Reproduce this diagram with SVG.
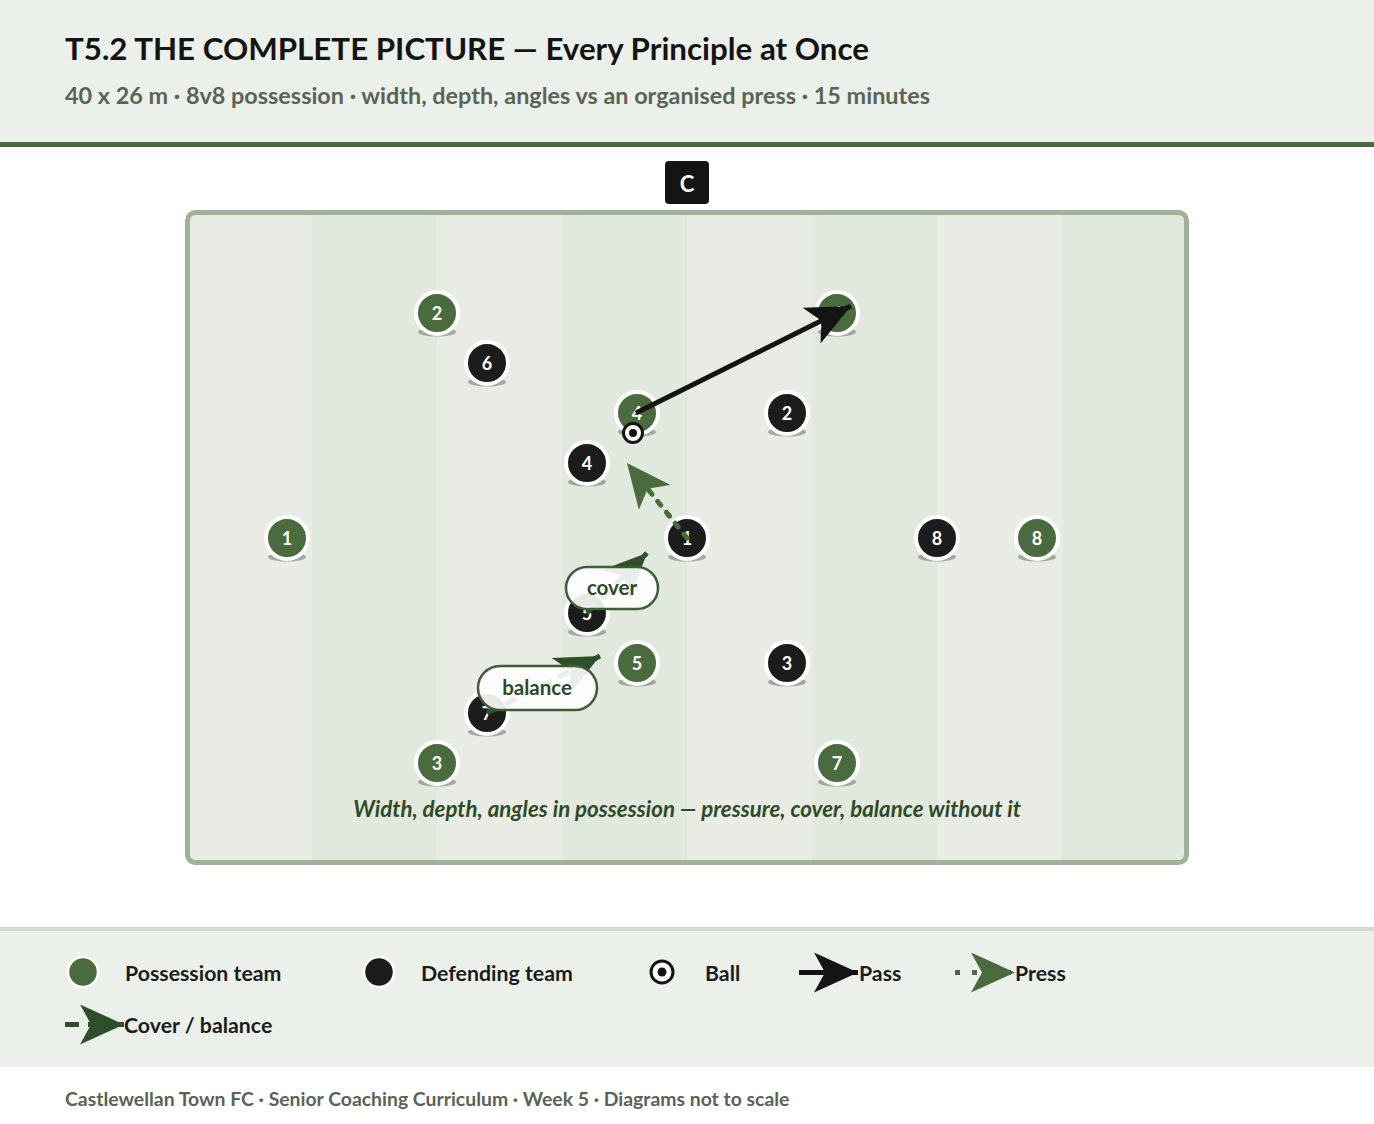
<svg xmlns="http://www.w3.org/2000/svg" width="1374" height="1124" viewBox="0 0 1374 1124">
<style>
text{font-family:Lato,"Liberation Sans",sans-serif;font-weight:700}
.title{font-size:31.3px;fill:#141414}
.sub{font-size:23.4px;fill:#5a6355}
.num{font-size:18px;fill:#ffffff;text-anchor:middle}
.att{fill:#4a6b3e;stroke:#ffffff;stroke-width:4}
.def{fill:#1c1c1c;stroke:#ffffff;stroke-width:4}
.shadow{fill:#8f918b;opacity:0.75}
.lbl{fill:#ffffff;fill-opacity:0.9;stroke:#3d5e35;stroke-width:2.5}
.lbltxt{font-size:20.5px;fill:#2e4a27;text-anchor:middle}
.leg{font-size:21.3px;fill:#1c1c1c}
.foot{font-size:19.4px;fill:#5a6355}
.cap{font-size:22.3px;font-style:italic;fill:#2e4a27;text-anchor:middle}
.dk{fill:#e1e8de}
.lt{fill:#e8ece5}
</style>
<defs>
<marker id="mPass" markerUnits="userSpaceOnUse" viewBox="0 0 44 40" markerWidth="44" markerHeight="40" refX="44" refY="20" orient="auto"><path d="M0,0 L44,20 L0,40 L11,20 Z" fill="#141414"/></marker>
<marker id="mPress" markerUnits="userSpaceOnUse" viewBox="0 0 44 40" markerWidth="44" markerHeight="40" refX="44" refY="20" orient="auto"><path d="M0,0 L44,20 L0,40 L11,20 Z" fill="#4a6b3e"/></marker>
<marker id="mCover" markerUnits="userSpaceOnUse" viewBox="0 0 44 40" markerWidth="44" markerHeight="40" refX="44" refY="20" orient="auto"><path d="M0,0 L44,20 L0,40 L11,20 Z" fill="#2f4f2a"/></marker>
</defs>
<rect x="0" y="0" width="1374" height="1124" fill="#ffffff"/>
<g id="header">
<rect x="0" y="0" width="1374" height="142" fill="#ecf0eb"/>
<rect x="0" y="142" width="1374" height="5" fill="#4a6b3e"/>
<text class="title" x="65" y="60">T5.2 THE COMPLETE PICTURE — Every Principle at Once</text>
<text class="sub" x="65" y="104">40 x 26 m · 8v8 possession · width, depth, angles vs an organised press · 15 minutes</text>
</g>
<g id="coach">
<rect x="665" y="161" width="44" height="43" rx="4" fill="#141414"/>
<text x="687" y="192" font-size="22" fill="#ffffff" text-anchor="middle">C</text>
</g>
<g id="pitch">
<rect x="187" y="213" width="125" height="649" class="lt"/>
<rect x="312" y="213" width="125" height="649" class="dk"/>
<rect x="437" y="213" width="125" height="649" class="lt"/>
<rect x="562" y="213" width="125" height="649" class="dk"/>
<rect x="687" y="213" width="125" height="649" class="lt"/>
<rect x="812" y="213" width="125" height="649" class="dk"/>
<rect x="937" y="213" width="125" height="649" class="lt"/>
<rect x="1062" y="213" width="125" height="649" class="dk"/>
<rect x="187.5" y="212.5" width="999" height="650" rx="8" fill="none" stroke="#a0b39a" stroke-width="5"/>
<text class="cap" x="687" y="817">Width, depth, angles in possession — pressure, cover, balance without it</text>
</g>
<g id="players">
<g id="a1"><ellipse class="shadow" cx="287" cy="557" rx="19" ry="4.5"/><circle class="att" cx="287" cy="538" r="21"/><text class="num" x="287" y="545">1</text></g>
<g id="a2"><ellipse class="shadow" cx="437" cy="332" rx="19" ry="4.5"/><circle class="att" cx="437" cy="313" r="21"/><text class="num" x="437" y="320">2</text></g>
<g id="a3"><ellipse class="shadow" cx="437" cy="782" rx="19" ry="4.5"/><circle class="att" cx="437" cy="763" r="21"/><text class="num" x="437" y="770">3</text></g>
<g id="a4"><ellipse class="shadow" cx="637" cy="432" rx="19" ry="4.5"/><circle class="att" cx="637" cy="413" r="21"/><text class="num" x="637" y="420">4</text></g>
<g id="a5"><ellipse class="shadow" cx="637" cy="682" rx="19" ry="4.5"/><circle class="att" cx="637" cy="663" r="21"/><text class="num" x="637" y="670">5</text></g>
<g id="a6"><ellipse class="shadow" cx="837" cy="332" rx="19" ry="4.5"/><circle class="att" cx="837" cy="313" r="21"/><text class="num" x="837" y="320">6</text></g>
<g id="a7"><ellipse class="shadow" cx="837" cy="782" rx="19" ry="4.5"/><circle class="att" cx="837" cy="763" r="21"/><text class="num" x="837" y="770">7</text></g>
<g id="a8"><ellipse class="shadow" cx="1037" cy="557" rx="19" ry="4.5"/><circle class="att" cx="1037" cy="538" r="21"/><text class="num" x="1037" y="545">8</text></g>
<g id="d1"><ellipse class="shadow" cx="687" cy="557" rx="19" ry="4.5"/><circle class="def" cx="687" cy="538" r="21"/><text class="num" x="687" y="545">1</text></g>
<g id="d2"><ellipse class="shadow" cx="787" cy="432" rx="19" ry="4.5"/><circle class="def" cx="787" cy="413" r="21"/><text class="num" x="787" y="420">2</text></g>
<g id="d3"><ellipse class="shadow" cx="787" cy="682" rx="19" ry="4.5"/><circle class="def" cx="787" cy="663" r="21"/><text class="num" x="787" y="670">3</text></g>
<g id="d4"><ellipse class="shadow" cx="587" cy="482" rx="19" ry="4.5"/><circle class="def" cx="587" cy="463" r="21"/><text class="num" x="587" y="470">4</text></g>
<g id="d5"><ellipse class="shadow" cx="587" cy="632" rx="19" ry="4.5"/><circle class="def" cx="587" cy="613" r="21"/><text class="num" x="587" y="620">5</text></g>
<g id="d6"><ellipse class="shadow" cx="487" cy="382" rx="19" ry="4.5"/><circle class="def" cx="487" cy="363" r="21"/><text class="num" x="487" y="370">6</text></g>
<g id="d7"><ellipse class="shadow" cx="487" cy="732" rx="19" ry="4.5"/><circle class="def" cx="487" cy="713" r="21"/><text class="num" x="487" y="720">7</text></g>
<g id="d8"><ellipse class="shadow" cx="937" cy="557" rx="19" ry="4.5"/><circle class="def" cx="937" cy="538" r="21"/><text class="num" x="937" y="545">8</text></g>
</g>
<g id="ball"><circle cx="633" cy="433" r="9.5" fill="#ffffff" stroke="#141414" stroke-width="3"/><circle cx="633" cy="433" r="4" fill="#141414"/></g>
<g id="connectors">
<line x1="636" y1="413" x2="851" y2="306" stroke="#141414" stroke-width="5" marker-end="url(#mPass)"/>
<line x1="687" y1="538" x2="627" y2="463" stroke="#4a6b3e" stroke-width="5" stroke-linecap="round" stroke-dasharray="5 9" marker-end="url(#mPress)"/>
<line x1="587" y1="613" x2="647" y2="553" stroke="#2f4f2a" stroke-width="5" stroke-dasharray="12 8" marker-end="url(#mCover)"/>
<line x1="487" y1="713" x2="600" y2="656" stroke="#2f4f2a" stroke-width="5" stroke-dasharray="12 8" marker-end="url(#mCover)"/>
</g>
<g id="labels">
<g id="lbl-cover"><rect class="lbl" x="566" y="567" width="92" height="42" rx="21"/><text class="lbltxt" x="612" y="595">cover</text></g>
<g id="lbl-balance"><rect class="lbl" x="478" y="666" width="119" height="44" rx="22"/><text class="lbltxt" x="537" y="695">balance</text></g>
</g>
<g id="legend">
<rect x="0" y="927" width="1374" height="140" fill="#ecf0eb"/>
<rect x="0" y="927" width="1374" height="4" fill="#d6d8cc"/>
<circle cx="83" cy="972" r="15" fill="#4a6b3e" stroke="#ffffff" stroke-width="2.5"/>
<text class="leg" x="125" y="981">Possession team</text>
<circle cx="379" cy="972" r="15" fill="#1c1c1c" stroke="#ffffff" stroke-width="2.5"/>
<text class="leg" x="421" y="981">Defending team</text>
<circle cx="662" cy="972" r="11" fill="#ffffff" stroke="#141414" stroke-width="3"/><circle cx="662" cy="972" r="4.5" fill="#141414"/>
<text class="leg" x="705" y="981">Ball</text>
<line x1="799" y1="972.5" x2="858" y2="972.5" stroke="#141414" stroke-width="5" marker-end="url(#mPass)"/>
<text class="leg" x="859" y="981">Pass</text>
<line x1="955" y1="972.5" x2="1015" y2="972.5" stroke="#4a6b3e" stroke-width="5" stroke-dasharray="5 12" marker-end="url(#mPress)"/>
<text class="leg" x="1015" y="981">Press</text>
<line x1="65" y1="1024.5" x2="124" y2="1024.5" stroke="#2f4f2a" stroke-width="5" stroke-dasharray="14 9" marker-end="url(#mCover)"/>
<text class="leg" x="124" y="1033">Cover / balance</text>
</g>
<g id="footer">
<text class="foot" x="65" y="1106">Castlewellan Town FC · Senior Coaching Curriculum · Week 5 · Diagrams not to scale</text>
</g>
</svg>
